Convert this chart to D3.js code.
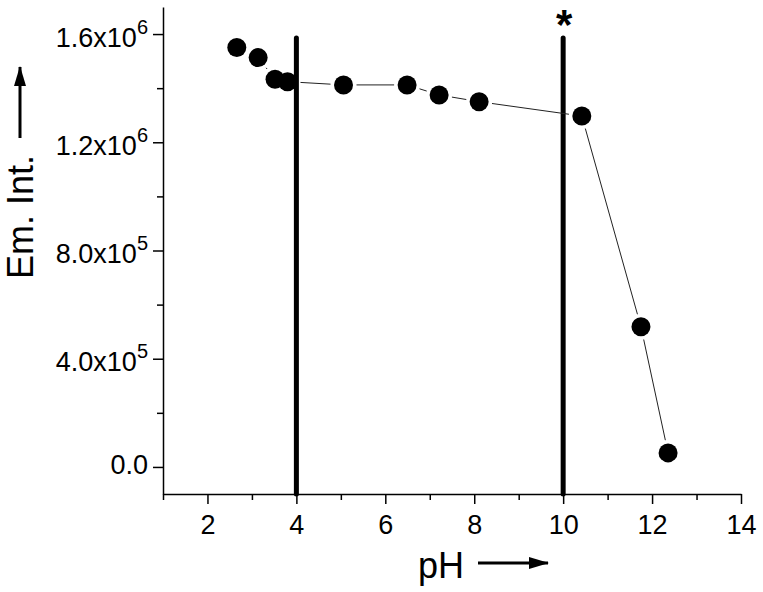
<!DOCTYPE html>
<html>
<head>
<meta charset="utf-8">
<script src="https://cdn.jsdelivr.net/npm/d3@7"></script>
<style>
  body { margin: 0; background: #fff; }
  svg text { font-family: "Liberation Sans", Arial, sans-serif; fill: #000; }
</style>
</head>
<body>
<div id="chart"></div>
<script>
// measured points (pH vs emission intensity)
const phValues = [2.66, 3.14, 3.52, 3.80, 5.06, 6.49, 7.21, 8.11, 10.42, 11.75, 12.36];
const emIntensity = [1.550e6, 1.513e6, 1.433e6, 1.424e6, 1.412e6, 1.412e6, 1.375e6, 1.350e6, 1.297e6, 5.18e5, 5.2e4];

// vertical marker lines (pKa positions), one flagged with "*"
const markerPH = [4, 10];
const markerTop = 1.585e6;
const markerFlag = ["", "*"];

// axis ticks
const xMajorTicks = [2, 4, 6, 8, 10, 12, 14];
const xMinorTicks = [1, 3, 5, 7, 9, 11, 13];
const yMajorTicks = [0, 4e5, 8e5, 1.2e6, 1.6e6];
const yMinorTicks = [2e5, 6e5, 1e6, 1.4e6];
const yTickMantissa = ["0.0", "4.0x10", "8.0x10", "1.2x10", "1.6x10"];
const yTickExponent = ["", "5", "5", "6", "6"];

const width = 763;
const height = 592;
const margin = { top: 7, right: 22, bottom: 98, left: 163 };

const svg = d3.select("#chart")
  .append("svg")
  .attr("width", width)
  .attr("height", height);

const x = d3.scaleLinear()
  .domain([1, 14])
  .range([margin.left, width - margin.right]);

const y = d3.scaleLinear()
  .domain([-1e5, 1.7e6])
  .range([height - margin.bottom, margin.top]);

// x axis: minor ticks first, then major with labels
svg.append("g")
  .attr("transform", `translate(0,${height - margin.bottom})`)
  .call(d3.axisBottom(x).tickValues(xMinorTicks).tickSize(6).tickSizeOuter(0).tickFormat(""))
  .call(g => g.select(".domain").remove());

const xAxis = svg.append("g")
  .attr("transform", `translate(0,${height - margin.bottom})`)
  .call(d3.axisBottom(x).tickValues(xMajorTicks).tickSize(10).tickSizeOuter(0).tickPadding(11));
xAxis.selectAll("text").attr("font-size", 27);

// y axis
svg.append("g")
  .attr("transform", `translate(${margin.left},0)`)
  .call(d3.axisLeft(y).tickValues(yMinorTicks).tickSize(6).tickSizeOuter(0).tickFormat(""))
  .call(g => g.select(".domain").remove());

const yAxis = svg.append("g")
  .attr("transform", `translate(${margin.left},0)`)
  .call(d3.axisLeft(y).tickValues(yMajorTicks).tickSize(10).tickSizeOuter(0));

yAxis.selectAll(".tick text").each(function (d, i) {
  const t = d3.select(this);
  t.text("")
    .attr("x", -15)
    .attr("dy", yTickExponent[i] ? 12 : 7)
    .attr("font-size", 27);
  t.append("tspan").text(yTickMantissa[i]);
  if (yTickExponent[i]) {
    t.append("tspan").attr("dy", -13).attr("font-size", 20).text(yTickExponent[i]);
  }
});

svg.selectAll(".domain, .tick line").attr("stroke", "#000").attr("stroke-width", 1.5);

// vertical marker lines
svg.selectAll(".marker")
  .data(markerPH)
  .enter().append("line")
  .attr("class", "marker")
  .attr("x1", d => x(d))
  .attr("x2", d => x(d))
  .attr("y1", y(markerTop))
  .attr("y2", height - margin.bottom)
  .attr("stroke", "#000")
  .attr("stroke-width", 5)
  .attr("stroke-linecap", "round");

svg.selectAll(".flag")
  .data(markerPH)
  .enter().append("text")
  .attr("class", "flag")
  .attr("x", d => x(d) + 1)
  .attr("y", y(markerTop) + 1)
  .attr("text-anchor", "middle")
  .attr("font-size", 42)
  .attr("font-weight", "bold")
  .text((d, i) => markerFlag[i]);

// connecting line, broken near each marker like the original plot
const pts = phValues.map((v, i) => [x(v), y(emIntensity[i])]);
const gap = 13;
for (let i = 0; i < pts.length - 1; i++) {
  const [x0, y0] = pts[i];
  const [x1, y1] = pts[i + 1];
  const len = Math.hypot(x1 - x0, y1 - y0);
  if (len <= 2 * gap) continue;
  const ux = (x1 - x0) / len, uy = (y1 - y0) / len;
  svg.append("line")
    .attr("x1", x0 + ux * gap)
    .attr("y1", y0 + uy * gap)
    .attr("x2", x1 - ux * gap)
    .attr("y2", y1 - uy * gap)
    .attr("stroke", "#222")
    .attr("stroke-width", 1);
}

svg.selectAll(".dot")
  .data(phValues)
  .enter().append("circle")
  .attr("class", "dot")
  .attr("cx", d => x(d))
  .attr("cy", (d, i) => y(emIntensity[i]))
  .attr("r", 9.5)
  .attr("fill", "#000");

// axis titles with arrows
svg.append("defs").append("marker")
  .attr("id", "arrow")
  .attr("viewBox", "0 0 20 12")
  .attr("refX", 19).attr("refY", 6)
  .attr("markerUnits", "userSpaceOnUse")
  .attr("markerWidth", 20).attr("markerHeight", 12)
  .attr("orient", "auto")
  .append("path")
  .attr("d", "M0,0L20,6L0,12z")
  .attr("fill", "#000");

svg.append("text")
  .attr("x", 418)
  .attr("y", 578)
  .attr("font-size", 36)
  .text("pH");

svg.append("line")
  .attr("x1", 478).attr("y1", 563)
  .attr("x2", 548).attr("y2", 563)
  .attr("stroke", "#000").attr("stroke-width", 3)
  .attr("marker-end", "url(#arrow)");

svg.append("text")
  .attr("transform", "translate(33,217) rotate(-90)")
  .attr("text-anchor", "middle")
  .attr("font-size", 36)
  .text("Em. Int.");

svg.append("line")
  .attr("x1", 20).attr("y1", 138)
  .attr("x2", 20).attr("y2", 67)
  .attr("stroke", "#000").attr("stroke-width", 3)
  .attr("marker-end", "url(#arrow)");
</script>
</body>
</html>
